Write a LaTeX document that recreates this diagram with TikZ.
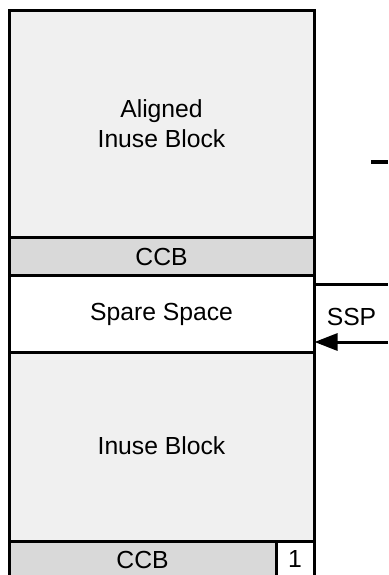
\documentclass[tikz,border=0pt]{standalone}
\usepackage{fontspec}
\setmainfont{Liberation Sans}
\usetikzlibrary{arrows.meta}
\definecolor{inuse}{HTML}{F0F0F0}
\definecolor{ccbgrey}{HTML}{D9D9D9}
\tikzset{
  blk/.style={draw=black, line width=3bp, inner sep=0pt, outer sep=0pt, anchor=north west, rectangle},
  lbl/.style={inner sep=0pt, outer sep=0pt, anchor=base, font=\fontsize{24.8}{30}\selectfont},
  conn/.style={draw=black, line width=3bp},
}
\begin{document}
\begin{tikzpicture}[x=1bp,y=-1bp]
\useasboundingbox (0,0) rectangle (388,575);
\begin{scope}
\clip (0,0) rectangle (388,575);
% blocks
\node[blk, fill=inuse, minimum width=305.5bp, minimum height=226bp] (aligned) at (9,11) {};
\node[blk, fill=ccbgrey, minimum width=305.5bp, minimum height=38bp] (ccbA) at (9,237) {};
\node[blk, fill=white, minimum width=305.5bp, minimum height=77bp] (spare) at (9,275) {};
\node[blk, fill=inuse, minimum width=305.5bp, minimum height=189bp] (inuse) at (9,352) {};
\node[blk, fill=ccbgrey, minimum width=267bp, minimum height=38bp] (ccbB) at (9,541) {};
\node[blk, fill=white, minimum width=38.5bp, minimum height=38bp] (one) at (276,541) {};
\end{scope}
% labels
\node[lbl] (tA1) at (161.5,117.5) {Aligned};
\node[lbl] (tA2) at (161.5,147.5) {Inuse Block};
\node[lbl] (tC1) at (161.5,265) {CCB};
\node[lbl] (tS) at (161.5,320) {Spare Space};
\node[lbl] (tI) at (161.5,454) {Inuse Block};
\node[lbl] (tC2) at (142.5,568) {CCB};
\node[lbl] (t1) at (295,567) {1};
\node[lbl] (tSSP) at (351.5,325) {SSP};
% connectors
\coordinate (dashL) at (371,162);
\coordinate (dashR) at (388,162);
\draw[conn] (dashL) -- (dashR);
\coordinate (topR) at (388,284.5);
\draw[conn] (topR -| spare.east) -- (topR);
\coordinate (sspR) at (388,342);
\draw[conn, -{Triangle[length=23bp,width=17bp]}] (sspR) -- (sspR -| spare.east);
\end{tikzpicture}
\end{document}
